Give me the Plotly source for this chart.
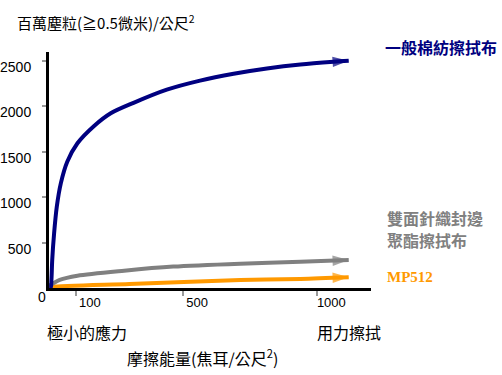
import plotly.graph_objects as go

# ---- data ----
cotton_x = [0, 6, 9, 12, 19, 29, 44, 68, 106, 168, 230, 315, 439, 563, 688, 812, 937, 1061, 1117]
cotton_y = [0, 0, 88, 308, 602, 895, 1153, 1391, 1594, 1785, 1925, 2040, 2185, 2285, 2360, 2418, 2462, 2492, 2503]

knit_x = [0, 12, 40, 106, 280, 463, 713, 937, 1117]
knit_y = [25, 45, 90, 136, 191, 236, 268, 288, 308]

mp_x = [0, 12, 300, 713, 937, 1117]
mp_y = [8, 14, 45, 88, 100, 118]

x_ticks = [100, 500, 1000]
y_ticks = [500, 1000, 1500, 2000, 2500]

NAVY = "#000080"
GRAY = "#808080"
ORANGE = "#FF9900"
CJK = "Noto Sans CJK TC"
SANS = "Liberation Sans"

fig = go.Figure()

def add_series(xs, ys, color):
    sizes = [0] * (len(xs) - 1) + [17]
    fig.add_trace(go.Scatter(
        x=xs, y=ys, mode="lines+markers",
        line=dict(color=color, width=4, shape="spline", smoothing=0.8),
        marker=dict(symbol="arrow", angleref="previous", size=sizes, color=color,
                    line=dict(width=0)),
        hoverinfo="skip", showlegend=False))

add_series(mp_x, mp_y, ORANGE)
add_series(knit_x, knit_y, GRAY)
add_series(cotton_x, cotton_y, NAVY)

W, H = 502, 375
L, R, T, B = 49, 131, 52, 87
pw, ph = W - L - R, H - T - B

def px(xp):
    return (xp - L) / pw

def py(yp):
    return (H - B - yp) / ph

annos = [
    dict(text="百萬塵粒(≧0.5微米)/公尺<sup>2</sup>", x=px(15), y=py(22), xanchor="left",
         font=dict(family=CJK, size=15, color="black")),
    dict(text="0", x=px(42), y=py(297), xanchor="center",
         font=dict(family=SANS, size=14, color="black")),
    dict(text="極小的應力", x=px(45), y=py(332), xanchor="left",
         font=dict(family=CJK, size=16, color="black")),
    dict(text="用力擦拭", x=px(315), y=py(332), xanchor="left",
         font=dict(family=CJK, size=16, color="black")),
    dict(text="摩擦能量(焦耳/公尺<sup>2</sup>)", x=px(125), y=py(357), xanchor="left",
         font=dict(family=CJK, size=16, color="black")),
    dict(text="<b>一般棉紡擦拭布</b>", x=px(383), y=py(47), xanchor="left",
         font=dict(family=CJK, size=16, color=NAVY)),
    dict(text="<b>雙面針織封邊</b>", x=px(385), y=py(218), xanchor="left",
         font=dict(family=CJK, size=16, color=GRAY)),
    dict(text="<b>聚酯擦拭布</b>", x=px(385), y=py(240), xanchor="left",
         font=dict(family=CJK, size=16, color=GRAY)),
    dict(text="<b>MP512</b>", x=px(385), y=py(277), xanchor="left",
         font=dict(family="Liberation Serif", size=15, color=ORANGE)),
]
for a in annos:
    a.update(xref="paper", yref="paper", yanchor="middle", showarrow=False)

fig.update_layout(
    width=W, height=H,
    margin=dict(l=L, r=R, t=T, b=B, pad=0, autoexpand=False),
    paper_bgcolor="white", plot_bgcolor="white",
    annotations=annos,
    xaxis=dict(range=[0, 1200], tickvals=x_ticks, showgrid=False, zeroline=False,
               automargin=False,
               showline=True, linecolor="black", linewidth=3,
               ticks="outside", ticklen=5, tickwidth=2, tickcolor="#999999",
               ticklabelshift=14, ticklabelstandoff=-5,
               tickfont=dict(family=SANS, size=13, color="black")),
    yaxis=dict(range=[0, 2600], tickvals=y_ticks, showgrid=False, zeroline=False,
               automargin=False,
               showline=True, linecolor="black", linewidth=3,
               ticks="outside", ticklen=4, tickwidth=2, tickcolor="#999999",
               ticklabelshift=6, ticklabelstandoff=8,
               tickfont=dict(family=SANS, size=14, color="black")),
)

fig.write_html("out.html", config={"displayModeBar": False},
               post_script="document.body.style.margin='0';")
